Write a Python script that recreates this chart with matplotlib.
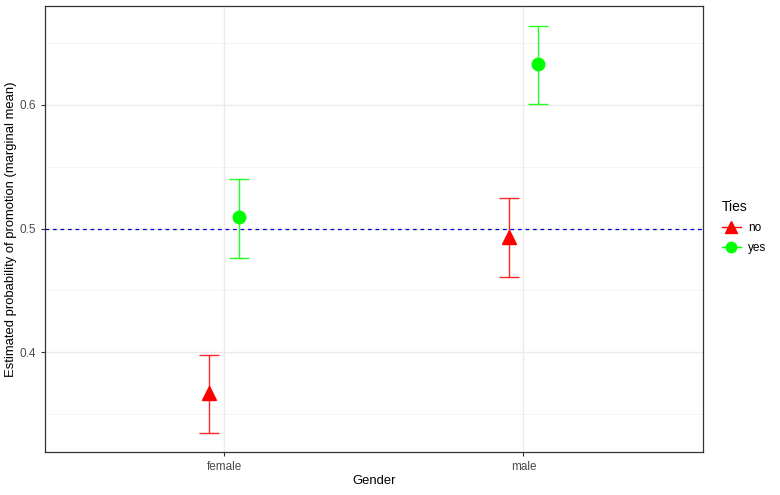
import matplotlib.pyplot as plt
from matplotlib.lines import Line2D
import numpy as np

plt.rcParams['font.family'] = ['Liberation Sans', 'DejaVu Sans']

genders = ['female', 'male']
ties = ['no', 'yes']
colors = {'no': '#FF0000', 'yes': '#00FF00'}
markers = {'no': '^', 'yes': 'o'}

# estimated marginal means and confidence limits
est = {'no': [0.367, 0.493], 'yes': [0.509, 0.633]}
lower = {'no': [0.335, 0.461], 'yes': [0.476, 0.601]}
upper = {'no': [0.398, 0.525], 'yes': [0.540, 0.664]}

fig = plt.figure(figsize=(7.8, 4.95), dpi=100)
ax = fig.add_axes([0.0573, 0.0863, 0.844, 0.9016])

x = np.arange(1, len(genders) + 1)
offset = {'no': -0.05, 'yes': 0.05}

ax.axhline(0.5, color='#0000CC', linestyle=(0, (3, 3)), linewidth=0.9, zorder=2)

for t in ties:
    xs = x + offset[t]
    y = np.array(est[t])
    lo = y - np.array(lower[t])
    hi = np.array(upper[t]) - y
    ax.errorbar(xs, y, yerr=[lo, hi], fmt='none', ecolor=colors[t],
                elinewidth=1.0, capsize=7.5, capthick=1.0, alpha=0.85, zorder=3)
    ax.plot(xs, y, linestyle='none', marker=markers[t], color=colors[t],
            markersize=10 if t == 'no' else 9, zorder=4)

ax.set_xlim(0.4, 2.6)
ax.set_ylim(0.319, 0.680)
ax.set_xticks(x)
ax.set_xticklabels(genders)
ax.set_yticks([0.4, 0.5, 0.6])
ax.set_yticklabels(['0.4', '0.5', '0.6'])
ax.set_yticks([0.35, 0.45, 0.55, 0.65], minor=True)

ax.grid(True, which='major', color='#EBEBEB', linewidth=1.0)
ax.grid(True, which='minor', axis='y', color='#F2F2F2', linewidth=0.6)
ax.set_axisbelow(True)
ax.tick_params(which='major', length=3, color='#333333', labelcolor='#4D4D4D',
               labelsize=8.5, width=0.8, pad=3)
ax.tick_params(which='minor', length=0)
for s in ax.spines.values():
    s.set_color('#333333')
    s.set_linewidth(0.9)

ax.set_xlabel('Gender', fontsize=9.4, labelpad=2)
ax.set_ylabel('Estimated probability of promotion (marginal mean)', fontsize=9.4, labelpad=2)

handles = [Line2D([0], [0], color=colors[t], marker=markers[t], markersize=8 if t == 'no' else 7.5,
                  linewidth=1.0) for t in ties]
leg = fig.legend(handles, ties, title='Ties', loc='upper left', bbox_to_anchor=(0.912, 0.618),
                 frameon=False, fontsize=8.5, title_fontsize=10, handlelength=1.6,
                 handletextpad=0.6, labelspacing=0.7)
leg._legend_box.align = 'left'

fig.savefig('out.png', dpi=100)
